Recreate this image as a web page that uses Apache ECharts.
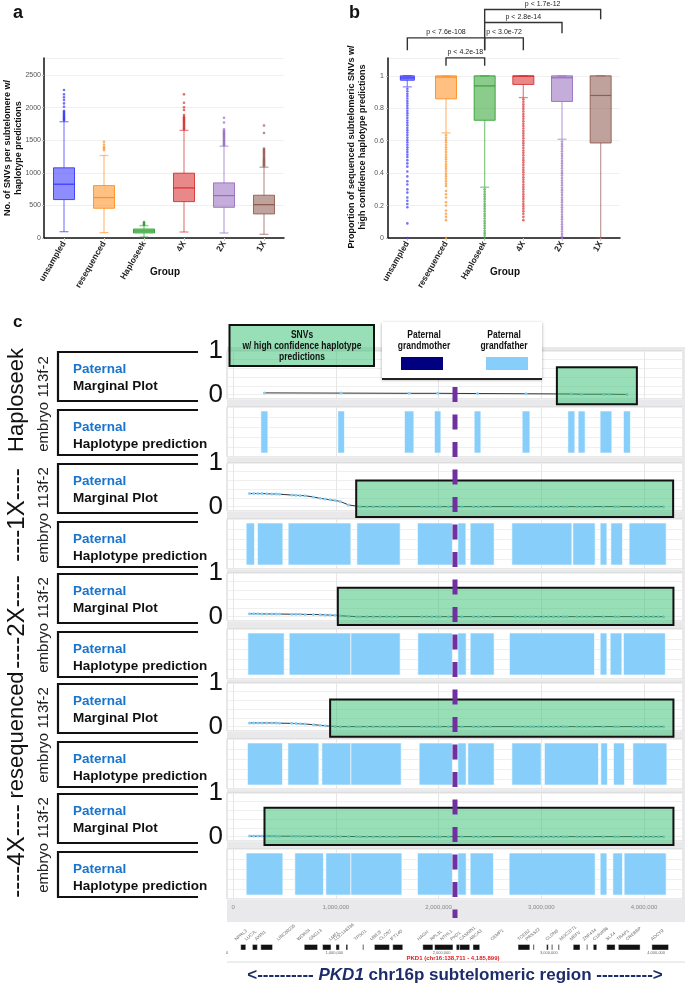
<!DOCTYPE html>
<html><head><meta charset="utf-8">
<script src="https://cdn.jsdelivr.net/npm/echarts@6/dist/echarts.min.js"></script>
<style>
html,body{margin:0;padding:0;background:#fff}
#wrap{position:relative;width:685px;height:986px}
#bg{position:absolute;left:227px;top:347px;width:458px;height:575px;background:#e9e9ec}
#c{position:absolute;left:0;top:0;width:685px;height:986px}
</style>
</head><body><div id="wrap"><div id="bg"></div><div id="c"></div></div>
<script>
// ---------------- DATA ----------------
const groups = ['unsampled','resequenced','Haploseek','4X','2X','1X'];
// panel a: [lowWhisker, Q1, median, Q3, highWhisker]
const snvBox = [[97,589,825,1076,1783],[82,456,620,804,1265],[15,77,108,138,190],[92,558,768,994,1650],[77,471,650,845,1409],[56,369,512,656,1086]];
const snvOutUnsampled = [1800,1815,1830,1845,1860,1875,1890,1905,1920,1935,1950,2013,2064,2115,2157,2203,2270];
const snvOutReseq = [1347,1375,1398,1434,1475];
const snvOutHaploseek = [200,210,220,232,245];
const snvOut4X = [1665,1680,1695,1710,1725,1740,1755,1770,1785,1800,1815,1830,1845,1860,1885,1962,2003,2074,2203];
const snvOut2X = [1420,1435,1450,1465,1480,1495,1510,1525,1540,1555,1570,1585,1600,1615,1630,1645,1665,1772,1844];
const snvOut1X = [1100,1115,1130,1145,1160,1175,1190,1205,1220,1235,1250,1265,1280,1295,1310,1325,1340,1355,1373,1609,1726];
// panel b
const propBox = [[0.932,0.973,0.987,1,1],[0.648,0.858,0.992,1,1],[0.313,0.726,0.938,1,1],[0.866,0.947,0.998,1,1],[0.609,0.842,0.988,1,1],[0,0.586,0.879,1,1]];
const propOutUnsampled = [0.92,0.905,0.89,0.875,0.86,0.845,0.83,0.815,0.80,0.785,0.77,0.755,0.74,0.725,0.71,0.695,0.68,0.665,0.65,0.635,0.62,0.605,0.59,0.575,0.56,0.545,0.53,0.515,0.50,0.48,0.46,0.44,0.41,0.38,0.35,0.33,0.30,0.28,0.25,0.23,0.21,0.19,0.09,0.0];
const propOutReseq = [0.635,0.62,0.605,0.59,0.575,0.56,0.545,0.53,0.515,0.50,0.485,0.47,0.455,0.44,0.425,0.41,0.395,0.38,0.365,0.35,0.335,0.32,0.29,0.27,0.25,0.22,0.20,0.17,0.15,0.13,0.11,0.0];
const propOutHaploseek = [0.30,0.285,0.27,0.255,0.24,0.225,0.21,0.195,0.18,0.165,0.15,0.135,0.12,0.105,0.09,0.075,0.06,0.045,0.03,0.015,0.0];
const propOut4X = [0.855,0.84,0.825,0.81,0.795,0.78,0.765,0.75,0.735,0.72,0.705,0.69,0.675,0.66,0.645,0.63,0.615,0.60,0.585,0.57,0.555,0.54,0.525,0.51,0.495,0.48,0.465,0.45,0.435,0.42,0.405,0.39,0.375,0.36,0.345,0.33,0.315,0.30,0.285,0.27,0.255,0.24,0.225,0.21,0.195,0.18,0.165,0.15,0.13,0.11];
const propOut2X = [0.595,0.58,0.565,0.55,0.535,0.52,0.505,0.49,0.475,0.46,0.445,0.43,0.415,0.40,0.385,0.37,0.355,0.34,0.325,0.31,0.295,0.28,0.265,0.25,0.235,0.22,0.205,0.19,0.175,0.16,0.145,0.13,0.115,0.10,0.085,0.07,0.055,0.04,0.025,0.01,0.0];
const propOut1X = [];
const sigLabels = ['p < 7.6e-108','p < 4.2e-18','p < 3.0e-72','p < 2.8e-14','p < 1.7e-12'];
const sigFrom = [0,1,2,2,2];
const sigTo = [2,2,3,4,5];
const sigBarY = [1.234,1.111,1.234,1.329,1.409];
const sigLegFromY = [1.158,1.062,1.158,1.234,1.329];
const sigLegToY = [1.158,1.062,1.158,1.263,1.349];
// panel c
const rowLabels = ['Haploseek','----1X----','----2X----','resequenced','----4X----'];
const pkd1Pos = 2160000;
const axisBp = [0,1000000,2000000,3000000,4000000];
const haploseekPos = [304000,1051000,1714000,1991000,2379000,2851000,3293000,3393000,3610000,3660000,3834000];
const haploseekMarg = [0.04,0.035,0.03,0.03,0.025,0.02,0.015,0.01,0.01,0.01,0.005];
const leftPos = [159000,200000,240000,279000,328000,377000,420000,451000,571000,612000,652000,701000,782000,847000,896000,944000,993000,1042000,1123000,1204000];
const rightPos = [1236600,1301500,1366000,1431300,1496600,1545000,1594000,1837000,1886000,1935000,1983000,2015600,2096600,2226500,2340000,2388600,2437000,2502400,2745800,2794500,2843000,2892000,2924000,2973000,3021500,3070000,3119000,3168000,3216000,3249000,3346600,3395000,3444000,3492600,3606000,3719500,3752000,3898000,3946000,3995000,4044000,4092000,4141000,4190000];
const rightVals = [0,0,0,0,0,0,0,0,0,0,0,0,0,0,0,0,0,0,0,0,0,0,0,0,0,0,0,0,0,0,0,0,0,0,0,0,0,0,0,0,0,0,0,0];
const marg1XLeft = [0.30,0.30,0.30,0.30,0.295,0.29,0.29,0.285,0.265,0.26,0.255,0.25,0.22,0.19,0.175,0.155,0.14,0.12,0.04,0.01];
const marg2XLeft = [0.065,0.065,0.065,0.062,0.062,0.06,0.06,0.06,0.055,0.055,0.055,0.05,0.05,0.045,0.04,0.035,0.03,0.02,0.01,0];
const margReseqLeft = [0.085,0.085,0.085,0.085,0.085,0.085,0.085,0.08,0.075,0.07,0.065,0.06,0.045,0.03,0.02,0.01,0.005,0,0,0];
const marg4XLeft = [0.012,0.012,0.012,0.012,0.012,0.012,0.01,0.01,0.01,0.01,0.008,0.008,0.008,0.006,0.006,0.005,0.005,0.004,0.003,0.002];
const barsHaploseek = [[269700,337900],[1019400,1083700],[1668000,1759500],[1960000,2022400],[2346600,2411800],[2814000,2889000],[3259000,3327000],[3359000,3427000],[3573000,3687000],[3800000,3868000]];
const bars1X = [[126600,207400],[236600,483900],[535500,1146000],[1204500,1626000],[1794500,2135000],[2188000,2266000],[2307700,2541000],[2713700,3298000],[3307700,3524800],[3573500,3638700],[3677700,3790600],[3855800,4216000]];
const bars2X = [[143000,496600],[545700,1146000],[1146000,1626000],[1798000,2135000],[2188000,2268700],[2308000,2541000],[2690000,3518000],[3573500,3638700],[3671000,3785000],[3800000,4208000]];
const barsReseq = [[139000,480000],[532600,834500],[863700,1146000],[1146000,1636000],[1811000,2135000],[2188000,2268700],[2285000,2541000],[2713700,2999000],[3031000,3557000],[3580000,3644500],[3703000,3810000],[3892000,4223000]];
const bars4X = [[126600,483900],[600800,879300],[902600,1146000],[1146000,1642600],[1794500,2135000],[2188000,2268700],[2307700,2534600],[2687400,3524800],[3573500,3638700],[3697000,3790600],[3807000,4216000]];
// high confidence regions: [start, end, top, bottom]
const hiConf = [[3152000,3931000,0.63,-0.22],[1198000,4284000,0.6,-0.24],[1019000,4287000,0.66,-0.19],[944000,4287000,0.62,-0.23],[305000,4287000,0.66,-0.19]];
const geneNames = ['NPRL3','LUC7L','AXIN1','LINC00235','WDR24','GNG13','LMF1','LOC146336','TPSG1','UBE2I','CLCN7','IFT140','HAGH','RPL3L','NTHL1','PKD1','CASKIN1','ABCA3','CEMP1','TCEB2','PRSS22','CLDN6','MGC3771','MEFV','ZNF434','C16orf96','SLX4','TRAP1','CREBBP','ADCY9'];
const geneLabelPos = [93000,187000,280000,486000,673000,785000,972000,1019000,1206000,1355000,1439000,1542000,1794000,1916000,2009000,2103000,2187000,2280000,2477000,2729000,2804000,2991000,3121000,3215000,3336000,3430000,3551000,3654000,3738000,3972000];
const geneBlocks = [[128000,175000],[237000,283000],[315000,424000],[720000,844000],[891000,969000],[1016000,1047000],[1109000,1125000],[1265000,1271000],[1374000,1514000],[1545000,1638000],[1825000,1919000],[1935000,2106000],[2137000,2168000],[2168000,2262000],[2293000,2355000],[2713000,2822000],[2853000,2863000],[2978000,2994000],[3025000,3035000],[3087000,3097000],[3227000,3290000],[3352000,3360000],[3414000,3446000],[3539000,3617000],[3648000,3850000],[3960000,4115000]];

// ---------------- STYLE / LAYOUT ----------------
const groupColors = ['#2f2fff','#ff8c1a','#2ca02c','#d62728','#9467bd','#8c564b'];
const FONT = "'Liberation Sans', Arial, sans-serif";
const mTop = [351, 463, 573, 683, 793];
const X_MIN = -60000, X_MAX = 4380000;
function rgba(hex, a){ const n=parseInt(hex.slice(1),16); return 'rgba('+((n>>16)&255)+','+((n>>8)&255)+','+(n&255)+','+a+')'; }

const chart = echarts.init(document.getElementById('c'), null, {renderer:'canvas', width:685, height:986});

const grids = [
  {left:44, top:58, width:240, height:180, outerBoundsMode:'none'},
  {left:388, top:58, width:232, height:180, outerBoundsMode:'none'}
];
mTop.forEach(t => grids.push({left:227, top:t, width:456, height:48, show:true, backgroundColor:'#fff', borderColor:'#d3d3d3', borderWidth:1, outerBoundsMode:'none'}));
mTop.forEach(t => grids.push({left:227, top:t+56, width:456, height:50, show:true, backgroundColor:'#fff', borderColor:'#d3d3d3', borderWidth:1, outerBoundsMode:'none'}));
grids.push({left:227, top:387, width:456, height:531, outerBoundsMode:'none'}); // 12 purple line
grids.push({left:227, top:939, width:456, height:11, outerBoundsMode:'none'});  // 13 genes

const catAxis = gi => ({gridIndex:gi, type:'category', data:groups,
  axisLine:{lineStyle:{color:'#111', width:1.5}},
  axisTick:{show:true, alignWithLabel:true, length:3, lineStyle:{color:'#cfcfcf'}},
  axisLabel:{rotate:60, fontSize:8.5, fontWeight:'bold', color:'#222', margin:4, interval:0, fontFamily:FONT}});
const cX = (gi, lab) => ({gridIndex:gi, type:'value', min:X_MIN, max:X_MAX,
  axisLine:{show:false}, axisTick:{show:false},
  axisLabel: lab ? {customValues:axisBp, fontSize:6, color:'#888', margin:5, formatter:v=>Number(v).toLocaleString('en-US')} : {show:false},
  splitLine:{show:true, lineStyle:{color:'#e6e6e6', width:1}}});

const xAxis = [catAxis(0), catAxis(1)];
for (let r=0;r<5;r++) xAxis.push(cX(2+r,false));
for (let r=0;r<5;r++) xAxis.push(cX(7+r, r===4));
xAxis.push({gridIndex:12, type:'value', min:X_MIN, max:X_MAX, show:false});
xAxis.push({gridIndex:13, type:'value', min:0, max:4250000, axisLine:{show:false}, axisTick:{show:false}, splitLine:{show:false},
  axisLabel:{customValues:axisBp, fontSize:4, color:'#666', margin:1, formatter:v=>Number(v).toLocaleString('en-US')}});

const yAxis = [
  {gridIndex:0, type:'value', min:0, max:2760, interval:500,
    axisLine:{show:true, lineStyle:{color:'#111', width:1.5}}, axisTick:{show:true, length:2, lineStyle:{color:'#bbb'}},
    axisLabel:{fontSize:7, color:'#555', showMaxLabel:false, margin:3, formatter:v=>String(v)}, splitLine:{lineStyle:{color:'#f0f0f0'}}},
  {gridIndex:1, type:'value', min:0, max:1.11, interval:0.2,
    axisLine:{show:true, lineStyle:{color:'#111', width:1.5}}, axisTick:{show:true, length:2, lineStyle:{color:'#bbb'}},
    axisLabel:{fontSize:7, color:'#555', showMaxLabel:false, margin:4}, splitLine:{lineStyle:{color:'#f0f0f0'}}}
];
for (let r=0;r<5;r++) yAxis.push({gridIndex:2+r, type:'value', min:-0.1, max:1, axisLine:{show:false}, axisTick:{show:false},
  axisLabel:{customValues:[0,1], fontSize:26, color:'#111', margin:4, fontFamily:FONT}, splitLine:{lineStyle:{color:'#efefef'}}});
for (let r=0;r<5;r++) yAxis.push({gridIndex:7+r, type:'value', min:0, max:1, axisLine:{show:false}, axisTick:{show:false},
  axisLabel:{show:false}, splitLine:{lineStyle:{color:'#efefef'}}});
yAxis.push({gridIndex:12, type:'value', min:0, max:1, show:false});
yAxis.push({gridIndex:13, type:'value', min:0, max:1, show:false});

function boxSeries(ai, data, boxW, capW){
  return {type:'custom', xAxisIndex:ai, yAxisIndex:ai, z:3, clip:false,
    data: data.map((b,i)=>[i].concat(b)),
    renderItem(params, api){
      const i = api.value(0), col = groupColors[i];
      const p = k => api.coord([i, api.value(k)]);
      const lo=p(1), q1=p(2), md=p(3), q3=p(4), hi=p(5), x=lo[0], bw=boxW[i];
      const wl = {stroke: rgba(col,.55), lineWidth:1.3};
      return {type:'group', children:[
        {type:'line', shape:{x1:x,y1:q1[1],x2:x,y2:lo[1]}, style:wl},
        {type:'line', shape:{x1:x,y1:q3[1],x2:x,y2:hi[1]}, style:wl},
        {type:'line', shape:{x1:x-capW/2,y1:lo[1],x2:x+capW/2,y2:lo[1]}, style:wl},
        {type:'line', shape:{x1:x-capW/2,y1:hi[1],x2:x+capW/2,y2:hi[1]}, style:wl},
        {type:'rect', shape:{x:x-bw/2,y:q3[1],width:bw,height:Math.max(q1[1]-q3[1],1)}, style:{fill:rgba(col,.55), stroke:rgba(col,.85), lineWidth:1}},
        {type:'line', shape:{x1:x-bw/2,y1:md[1],x2:x+bw/2,y2:md[1]}, style:{stroke:rgba(col,.9), lineWidth:1.2}}
      ]};
    }};
}
function outSeries(ai, lists){
  return lists.map((l,i)=>({type:'scatter', xAxisIndex:ai, yAxisIndex:ai, z:4, symbol:'circle', symbolSize:2.6,
    itemStyle:{color:rgba(groupColors[i],.85)}, data:l.map(v=>[i,v]), silent:true}));
}

const series = [];
series.push(boxSeries(0, snvBox, [21,21,21,21,21,21], 9));
series.push(...outSeries(0, [snvOutUnsampled,snvOutReseq,snvOutHaploseek,snvOut4X,snvOut2X,snvOut1X]));
series.push(boxSeries(1, propBox, [14,21,21,21,21,21], 9));
series.push(...outSeries(1, [propOutUnsampled,propOutReseq,propOutHaploseek,propOut4X,propOut2X,propOut1X]));
// significance brackets
series.push({type:'custom', xAxisIndex:1, yAxisIndex:1, clip:false, z:5,
  data: sigFrom.map((f,i)=>[f, sigTo[i], sigBarY[i], sigLegFromY[i], sigLegToY[i]]),
  renderItem(params, api){
    const a = api.coord([api.value(0), api.value(2)]);
    const b = api.coord([api.value(1), api.value(2)]);
    const la = api.coord([api.value(0), api.value(3)]);
    const lb = api.coord([api.value(1), api.value(4)]);
    return {type:'group', children:[
      {type:'polyline', shape:{points:[[a[0],la[1]],[a[0],a[1]],[b[0],b[1]],[b[0],lb[1]]]}, style:{stroke:'#333', lineWidth:1.4, fill:null}},
      {type:'text', x:(a[0]+b[0])/2, y:a[1]-2, style:{text:sigLabels[params.dataIndex], fontSize:7, fill:'#222', align:'center', verticalAlign:'bottom', fontFamily:FONT}}
    ]};
  }});

// panel c
const margPos = [haploseekPos, leftPos.concat(rightPos), leftPos.concat(rightPos), leftPos.concat(rightPos), leftPos.concat(rightPos)];
const margVals = [haploseekMarg, marg1XLeft.concat(rightVals), marg2XLeft.concat(rightVals), margReseqLeft.concat(rightVals), marg4XLeft.concat(rightVals)];
const barsRows = [barsHaploseek, bars1X, bars2X, barsReseq, bars4X];
for (let r=0;r<5;r++){
  series.push({type:'line', xAxisIndex:2+r, yAxisIndex:2+r, z:2, symbol:'circle', symbolSize:3, showSymbol:true,
    lineStyle:{color:'#333', width:1}, itemStyle:{color:'#87cefa'}, silent:true,
    data: margPos[r].map((p,i)=>[p, margVals[r][i]])});
  series.push({type:'custom', xAxisIndex:2+r, yAxisIndex:2+r, z:3, clip:false, silent:true,
    data:[hiConf[r]],
    renderItem(params, api){
      const a = api.coord([api.value(0), api.value(2)]);
      const b = api.coord([api.value(1), api.value(3)]);
      return {type:'rect', shape:{x:a[0], y:a[1], width:b[0]-a[0], height:b[1]-a[1]}, style:{fill:'rgba(50,190,110,0.5)', stroke:'#111', lineWidth:2}};
    }});
  series.push({type:'custom', xAxisIndex:7+r, yAxisIndex:7+r, z:2, silent:true,
    data: barsRows[r],
    renderItem(params, api){
      const s = api.coord([api.value(0), 0.92]);
      const e = api.coord([api.value(1), 0.08]);
      return {type:'rect', shape:{x:s[0], y:s[1], width:e[0]-s[0], height:e[1]-s[1]}, style:{fill:'#87cefa', stroke:'#ffffff', lineWidth:0.6}};
    }});
}
series.push({type:'line', xAxisIndex:12, yAxisIndex:12, z:8, showSymbol:false, silent:true,
  lineStyle:{color:'#7030a0', width:5, type:[15,12.5], cap:'butt'},
  data:[[pkd1Pos,1],[pkd1Pos,0]]});
series.push({type:'custom', xAxisIndex:13, yAxisIndex:13, z:2, silent:true, data:geneBlocks,
  renderItem(params, api){
    const s = api.coord([api.value(0), 0.5]);
    const e = api.coord([api.value(1), 0]);
    return {type:'rect', shape:{x:s[0], y:s[1], width:Math.max(e[0]-s[0],1), height:e[1]-s[1]}, style:{fill:'#111', stroke:'#fff', lineWidth:0.4}};
  }});
series.push({type:'scatter', xAxisIndex:13, yAxisIndex:13, symbolSize:0, silent:true,
  data: geneLabelPos.map((p,i)=>({value:[p,0.75], name:geneNames[i]})),
  label:{show:true, formatter:'{b}', rotate:40, position:[0,0], align:'left', verticalAlign:'bottom', fontSize:4.5, color:'#444'}});

// ---------------- GRAPHIC (labels, legend, frames) ----------------
const G = [];
const txt = (x,y,text,st,extra) => G.push(Object.assign({type:'text', x, y, z:50, style:Object.assign({text, fontFamily:FONT, fill:'#111', align:'left', verticalAlign:'middle'}, st)}, extra||{}));
txt(13,13,'a',{fontSize:18, fontWeight:'bold'});
txt(349,13,'b',{fontSize:18, fontWeight:'bold'});
txt(13,322,'c',{fontSize:17, fontWeight:'bold'});
txt(13,148,'No. of SNVs per subtelomere w/\nhaplotype predictions',{fontSize:9, fontWeight:'bold', align:'center', lineHeight:10.5},{rotation:Math.PI/2});
txt(357,147,'Proportion of sequenced subtelomeric SNVs w/\nhigh confidence haplotype predictions',{fontSize:9, fontWeight:'bold', align:'center', lineHeight:11},{rotation:Math.PI/2});
txt(165,272,'Group',{fontSize:10, fontWeight:'bold', align:'center'});
txt(505,272,'Group',{fontSize:10, fontWeight:'bold', align:'center'});
const bigY = [400,515,622,735,851];
const embY = [404,515,625,735,845];
for (let r=0;r<5;r++){
  txt(17,bigY[r],rowLabels[r],{fontSize: r===0||r===3 ? 22 : 24, align:'center'},{rotation:Math.PI/2});
  txt(44,embY[r],'embryo 113f-2',{fontSize:15, align:'center', fill:'#222'},{rotation:Math.PI/2});
  const t=mTop[r], mb=[t+1,t+50], hb=[t+59,t+104];
  [mb,hb].forEach((b,k)=>{
    G.push({type:'polyline', z:50, shape:{points:[[198,b[0]],[58,b[0]],[58,b[1]],[198,b[1]]]}, style:{stroke:'#111', lineWidth:2.2, fill:null}});
    txt(73,b[0]+17,'Paternal',{fontSize:13.5, fontWeight:'bold', fill:'#1874cd'});
    txt(73,b[0]+34,k===0?'Marginal Plot':'Haplotype prediction',{fontSize:13.5, fontWeight:'bold', fill:'#111'});
  });
}
// legend
G.push({type:'rect', z:60, shape:{x:229.5,y:325,width:144.5,height:41}, style:{fill:'rgba(50,190,110,0.5)', stroke:'#111', lineWidth:2}});
G.push({type:'rect', z:60, shape:{x:382,y:322,width:160,height:57}, style:{fill:'#fff', shadowBlur:3, shadowColor:'rgba(0,0,0,0.35)', shadowOffsetY:1}});
G.push({type:'line', z:61, shape:{x1:382,y1:379,x2:542,y2:379}, style:{stroke:'#222', lineWidth:2}});
const nt = (x,y,text) => G.push({type:'text', x, y, z:62, scaleX:0.85, style:{text, fontFamily:FONT, fontSize:10, fontWeight:'bold', fill:'#111', align:'center', verticalAlign:'middle'}});
nt(302,335,'SNVs'); nt(302,346,'w/ high confidence haplotype'); nt(302,357,'predictions');
nt(424,335,'Paternal'); nt(424,346,'grandmother');
nt(504,335,'Paternal'); nt(504,346,'grandfather');
G.push({type:'rect', z:62, shape:{x:401,y:357,width:42,height:13}, style:{fill:'#000080'}});
G.push({type:'rect', z:62, shape:{x:486,y:357,width:42,height:13}, style:{fill:'#87cefa'}});
// gene track extras
G.push({type:'line', z:5, shape:{x1:227,y1:962,x2:685,y2:962}, style:{stroke:'#dcdcdc', lineWidth:1}});
txt(453,958,'PKD1 (chr16:138,711 - 4,185,899)',{fontSize:6, fontWeight:'bold', fill:'#e31a1c', align:'center'});
G.push({type:'text', x:455, y:975, z:50, style:{text:'{a|<---------- }{b|PKD1}{a| chr16p subtelomeric region ---------->}', align:'center', verticalAlign:'middle',
  rich:{a:{fontSize:17, fontWeight:'bold', fill:'#1d2c6b', color:'#1d2c6b', fontFamily:FONT}, b:{fontSize:17, fontWeight:'bold', fontStyle:'italic', fill:'#1d2c6b', color:'#1d2c6b', fontFamily:FONT}}}});

chart.setOption({
  animation:false,
  textStyle:{fontFamily:FONT},
  grid:grids, xAxis, yAxis, series,
  graphic:{elements:G}
});
</script>
</body></html>
